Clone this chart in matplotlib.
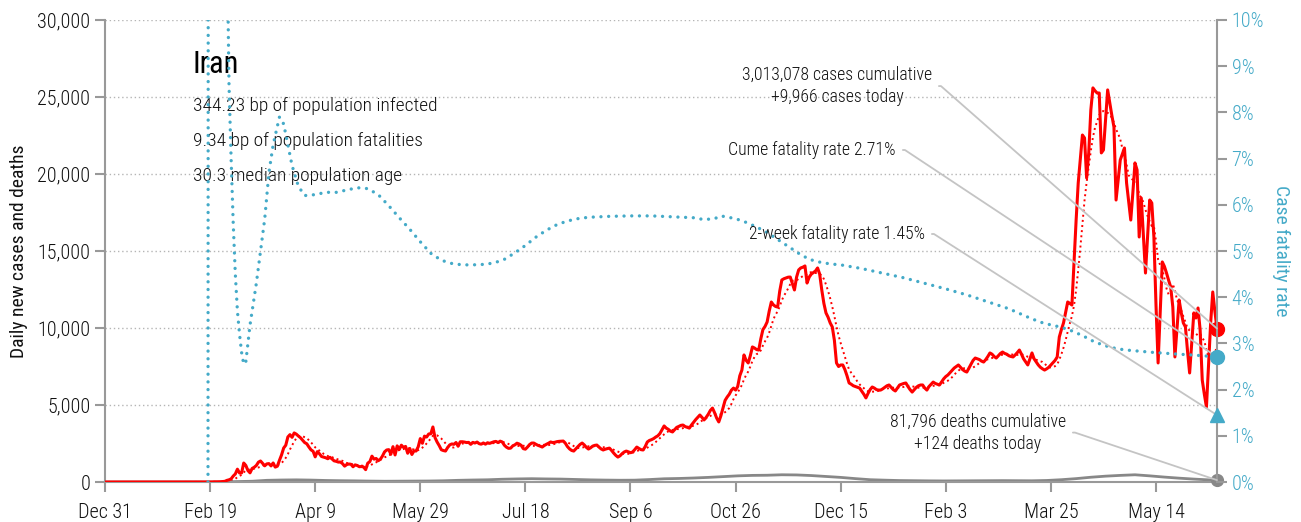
import matplotlib
matplotlib.use('Agg')
import matplotlib.pyplot as plt
import matplotlib.ticker as mticker
import matplotlib.dates as mdates
from matplotlib import font_manager
import pandas as pd

# narrow sans if one is installed
installed = {f.name for f in font_manager.fontManager.ttflist}
for fam in ['Roboto Condensed', 'Liberation Sans Narrow', 'Open Sans Condensed', 'DejaVu Sans']:
    if fam in installed:
        break
plt.rcParams['font.family'] = [fam, 'DejaVu Sans']
plt.rcParams['font.stretch'] = 'condensed'
plt.rcParams['font.weight'] = 'light'

country = 'Iran'
start = pd.Timestamp('2019-12-31')

# daily new cases, one value per day from Dec 31 2019
new_cases = [0] * 50 + [
    2, 3, 13, 10, 15, 18, 34, 44, 106, 143,
    205, 385, 523, 835, 586, 591, 1234, 1076, 743, 595,
    881, 958, 1075, 1289, 1365, 1209, 1053, 1178, 1192, 1046,
    1237, 966, 1028, 1411, 1762, 2206, 2389, 2926, 3076, 2901,
    3186, 3110, 2987, 2875, 2715, 2560, 2483, 2274, 2089, 1997,
    1634, 1972, 1837, 1657, 1617, 1574, 1512, 1606, 1499, 1374,
    1343, 1294, 1297, 1194, 1030, 1134, 1168, 1153, 991, 1112,
    1073, 993, 1006, 976, 802, 1223, 1323, 1680, 1485, 1529,
    1383, 1481, 1683, 1958, 2079, 2102, 1808, 2294, 1757, 2346,
    2111, 2392, 2250, 2311, 1869, 2180, 1787, 2023, 2012, 2283,
    2819, 2516, 2979, 2920, 3117, 3134, 3574, 2886, 2596, 2364,
    2095, 2043, 2011, 2238, 2410, 2472, 2449, 2565, 2322, 2612,
    2615, 2595, 2563, 2573, 2445, 2573, 2531, 2595, 2489, 2456,
    2536, 2457, 2549, 2510, 2560, 2613, 2637, 2560, 2652, 2600,
    2389, 2262, 2186, 2200, 2349, 2414, 2521, 2470, 2379, 2166,
    2133, 2270, 2434, 2530, 2530, 2450, 2380, 2330, 2270, 2370,
    2450, 2520, 2600, 2560, 2580, 2620, 2640, 2650, 2660, 2520,
    2300, 2150, 2050, 2010, 2160, 2300, 2440, 2530, 2410, 2250,
    2140, 2220, 2330, 2380, 2400, 2270, 2150, 2080, 2130, 2170,
    2200, 2050, 1880, 1730, 1620, 1700, 1840, 1950, 2010, 1960,
    1900, 1950, 2100, 2270, 2180, 2100, 2080, 2300, 2600, 2700,
    2750, 2820, 2920, 3000, 3150, 3400, 3640, 3500, 3420, 3300,
    3250, 3400, 3550, 3610, 3680, 3700, 3600, 3550, 3500, 3700,
    3880, 4050, 4200, 4350, 4200, 4030, 4200, 4400, 4650, 4800,
    4500, 4150, 3900, 4300, 4800, 5300, 5520, 5700, 5960, 6100,
    5970, 6200, 6900, 7270, 8250, 7900, 7730, 8200, 8770, 8700,
    8600, 8570, 9300, 9900, 10100, 10390, 11100, 11690, 11500, 11400,
    11360, 12400, 13120, 13200, 13250, 13300, 13310, 12900, 12470, 13300,
    13770, 13900, 13950, 14030, 12920, 13300, 13500, 13600, 13700, 13900,
    13500, 12470, 11600, 10980, 10700, 10330, 10070, 9200, 7730, 7500,
    7600, 7600, 7300, 6900, 6430, 6350, 6250, 6200, 6150, 6100,
    5900, 5700, 5460, 5750, 6000, 6170, 6100, 6000, 5970, 5970,
    6050, 6150, 6250, 6300, 6150, 6000, 5910, 6100, 6300, 6350,
    6400, 6430, 6200, 6000, 5840, 6000, 6150, 6250, 6300, 6300,
    6100, 5970, 6200, 6350, 6490, 6400, 6350, 6300, 6500, 6700,
    6850, 6950, 7100, 7250, 7400, 7500, 7600, 7450, 7300, 7200,
    7140, 7400, 7650, 7900, 8050, 8000, 7950, 7850, 7790, 7950,
    8150, 8380, 8300, 8150, 8050, 8200, 8350, 8440, 8350, 8300,
    8200, 8150, 8120, 8250, 8400, 8570, 8300, 8000, 7800, 7600,
    8000, 8380, 8000, 7800, 7600, 7450, 7350, 7270, 7350, 7450,
    7600, 7750, 7900, 8120, 9420, 9900, 10330, 11000, 11690, 11600,
    11490, 14200, 17000, 19420, 21000, 22530, 22340, 19740, 21370, 24160,
    25590, 25400, 25260, 25260, 21370, 21560, 23500, 25460, 24610, 23800,
    23050, 18310, 19600, 20910, 21300, 21690, 19420, 18200, 17010, 18800,
    20720, 20260, 15910, 18440, 16000, 13570, 16000, 18310, 18120, 15910,
    11500, 7730, 11000, 14290, 14000, 13570, 13100, 12660, 11360, 8120,
    10000, 11820, 11000, 10330, 10070, 8500, 7080, 9000, 10980, 10650,
    11300, 9870, 6620, 5700, 4870, 7600, 10330, 12340, 11100, 9966,
]

# daily deaths, sampled weekly from Dec 31 2019, plus the latest day
weekly_deaths = [
    0, 0, 0, 0, 0, 0, 0, 0,
    4, 30, 50, 110, 130, 140, 125, 100, 85, 75,
    60, 50, 55, 60, 65, 80, 110, 130, 145, 180,
    200, 215, 200, 190, 165, 140, 125, 115, 120, 160,
    210, 230, 260, 300, 350, 400, 430, 440, 470, 460,
    420, 360, 300, 220, 150, 120, 95, 85, 75, 70,
    75, 80, 85, 90, 85, 80, 100, 150, 220, 310,
    380, 430, 470, 400, 320, 250, 190, 140,
]
deaths_today = 124

# cumulative case fatality rate (%), by day since Dec 31 2019
cfr_days = [49, 50, 54, 58, 59, 60, 61, 62, 63, 64, 65, 66, 67, 68, 69, 70,
            72, 74, 76, 78, 80, 83, 85, 87, 89, 92, 95, 100, 105, 110, 115,
            120, 125, 130, 135, 140, 145, 150, 155, 160, 165, 170, 175, 180,
            185, 190, 195, 200, 205, 210, 215, 220, 225, 230, 240, 250, 260,
            270, 280, 285, 290, 293, 300, 305, 310, 315, 320, 325, 330, 335,
            340, 345, 350, 360, 370, 380, 390, 400, 410, 420, 430, 440, 445,
            450, 455, 460, 465, 470, 475, 480, 485, 490, 500, 510, 520, 529]
cfr_pct = [0, 100, 40, 12, 8.6, 7.0, 5.6, 4.5, 3.7, 3.2, 2.8, 2.55, 2.6, 3.0, 3.4, 3.7,
           4.3, 5.0, 5.7, 6.7, 7.3, 7.9, 7.75, 7.3, 6.85, 6.4, 6.2, 6.22, 6.27, 6.27, 6.32,
           6.37, 6.35, 6.22, 5.98, 5.72, 5.47, 5.2, 4.95, 4.8, 4.73, 4.7, 4.7, 4.71,
           4.74, 4.82, 4.96, 5.12, 5.3, 5.45, 5.57, 5.65, 5.7, 5.73, 5.75, 5.76, 5.76,
           5.74, 5.72, 5.68, 5.7, 5.76, 5.7, 5.62, 5.52, 5.4, 5.25, 5.1, 4.95, 4.82,
           4.76, 4.72, 4.7, 4.62, 4.52, 4.42, 4.3, 4.18, 4.05, 3.9, 3.75, 3.55, 3.46,
           3.4, 3.35, 3.27, 3.17, 3.05, 2.96, 2.9, 2.86, 2.84, 2.8, 2.77, 2.74, 2.71]

cases_total = 3013078
deaths_total = 81796
cume_cfr = 2.71
two_week_cfr = 1.45
infected_bp = 344.23
fatal_bp = 9.34
median_age = 30.3

blue = '#44aac8'
grey = '#888888'
ink = '#111111'

case_dates = pd.date_range(start, periods=len(new_cases))
last = case_dates[-1]
last_num = mdates.date2num(last)
avg7 = pd.Series(new_cases).rolling(7).mean()
death_dates = pd.date_range(start, periods=len(weekly_deaths), freq='7D').append(pd.DatetimeIndex([last]))
deaths = weekly_deaths + [deaths_today]
cfr_dates = start + pd.to_timedelta(cfr_days, unit='D')

fig = plt.figure(figsize=(13.01, 5.22), dpi=100)
ax = fig.add_axes([0.0807, 0.0766, 0.8547, 0.8851])
ax2 = ax.twinx()

ax.plot(case_dates, avg7, color='red', lw=1.4, ls=':', zorder=2)
ax.plot(case_dates, new_cases, color='red', lw=2.2, zorder=3)
ax.plot(death_dates, deaths, color=grey, lw=2, zorder=2)
ax2.plot(cfr_dates, cfr_pct, color=blue, lw=2.4, ls=(0, (0.01, 2.3)),
         dash_capstyle='round', zorder=2)

# end-of-series markers
ax.plot([last], [new_cases[-1]], 'o', color='red', ms=10, clip_on=False, zorder=6)
ax.plot([last], [deaths_today], 'o', color=grey, ms=8.5, clip_on=False, zorder=6)
ax2.plot([last], [cume_cfr], 'o', color=blue, ms=10, clip_on=False, zorder=6)
ax2.plot([last], [two_week_cfr], '^', color=blue, ms=10.5, clip_on=False, zorder=6)

ax.set_xlim(start, last)
ax.set_ylim(0, 30000)
ax2.set_ylim(0, 10)

xt = pd.date_range(start, periods=11, freq='50D')
ax.set_xticks(xt)
ax.set_xticklabels([f'{d:%b} {d.day}' for d in xt])
ax.set_yticks(range(0, 30001, 5000))
ax.yaxis.set_major_formatter(mticker.StrMethodFormatter('{x:,.0f}'))
ax2.set_yticks(range(0, 11))
ax2.yaxis.set_major_formatter(mticker.StrMethodFormatter('{x:.0f}%'))

ax.yaxis.grid(True, color='#b5b5b5', ls=(0, (1, 2)), lw=1)
ax.set_axisbelow(True)

for a in (ax, ax2):
    for s in a.spines.values():
        s.set_color('#999999')
        s.set_linewidth(1.5)
    a.spines['top'].set_visible(False)
ax.spines['right'].set_visible(False)
ax2.spines['left'].set_visible(False)
ax2.spines['bottom'].set_visible(False)

ax.tick_params(axis='both', colors='#999999', labelcolor=ink, labelsize=14.5,
               length=7, width=1.5)
ax.tick_params(axis='x', pad=8)
ax2.tick_params(axis='y', colors='#999999', labelcolor=blue, labelsize=14.5,
                length=7, width=1.5)

ax.set_ylabel('Daily new cases and deaths', fontsize=14, color=ink, labelpad=7)
ax2.set_ylabel('Case fatality rate', fontsize=14, color=blue, rotation=270, labelpad=19)

# country block
ax.text(0.079, 0.903, country, transform=ax.transAxes, fontsize=22,
        fontweight='normal', color='black', va='center', ha='left')
stats = [f'{infected_bp:.2f} bp of population infected',
         f'{fatal_bp:.2f} bp of population fatalities',
         f'{median_age} median population age']
for i, s in enumerate(stats):
    ax.text(0.079, 0.814 - 0.0758 * i, s, transform=ax.transAxes,
            fontsize=14, color=ink, va='center', ha='left')

# callouts with leader lines to the latest values
lead = dict(arrowstyle='-', color='#c4c4c4', lw=1.3, shrinkA=3, shrinkB=0,
            relpos=(1, 0.5), connectionstyle='arc,angleA=0,armA=9,rad=0')
callouts = [
    (f'{cases_total:,} cases cumulative\n+{new_cases[-1]:,} cases today',
     (last_num, new_cases[-1]), ax.transData, (0.7437, 0.857)),
    (f'Cume fatality rate {cume_cfr:.2f}%',
     (last_num, cume_cfr), ax2.transData, (0.7113, 0.7186)),
    (f'2-week fatality rate {two_week_cfr:.2f}%',
     (last_num, two_week_cfr), ax2.transData, (0.7374, 0.5368)),
    (f'{deaths_total:,} deaths cumulative\n+{deaths_today} deaths today',
     (last_num, deaths_today), ax.transData, (0.8642, 0.107)),
]
for label, xy, tr, pos in callouts:
    ax2.annotate(label, xy=xy, xycoords=tr, xytext=pos, textcoords='axes fraction',
                 ha='right', va='center', multialignment='center',
                 fontsize=12.8, color=ink, linespacing=1.3,
                 arrowprops=lead, zorder=5, annotation_clip=False)

fig.savefig('out.png', dpi=100)
